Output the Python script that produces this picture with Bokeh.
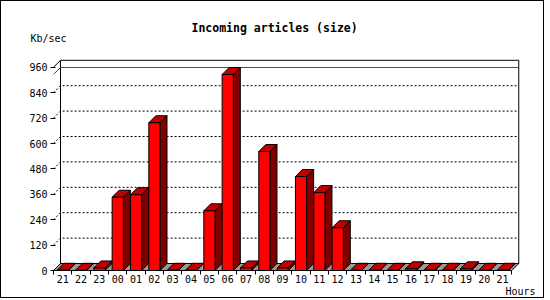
import numpy as np
from bokeh.plotting import figure
from bokeh.models import (Range1d, LinearAxis, FixedTicker, CustomJSTickFormatter, Title)
from bokeh.embed import file_html
from bokeh.resources import INLINE

# ---- data ----
hours = ["21", "22", "23", "00", "01", "02", "03", "04", "05", "06", "07", "08",
         "09", "10", "11", "12", "13", "14", "15", "16", "17", "18", "19", "20", "21"]
kbsec = [1, 1, 12, 346, 358, 698, 1, 1, 282, 926, 12, 562,
         12, 444, 368, 202, 1, 1, 1, 8, 1, 1, 8, 1, 1]
y_ticks = [0, 120, 240, 360, 480, 600, 720, 840, 960]
title_text = "Incoming articles (size)"
y_title = "Kb/sec"
x_title = "Hours"

# ---- geometry (pixels -> data units) ----
W, H = 544, 298          # canvas inside a 1px css border
L, R, T, B = 52, 20, 55, 27
PX_CAT = 18.33
PX_VAL = 203.2 / 960.0
DX = 7.0 / PX_CAT
DY = 7.0 / PX_VAL
fw = W - L - R
fh = H - T - B
FONT = "DejaVu Sans Mono"

p = figure(width=W, height=H, output_backend="svg", toolbar_location=None,
           x_range=Range1d(0, fw / PX_CAT),
           y_range=Range1d(-2.0 / PX_VAL, (fh - 2.0) / PX_VAL),
           min_border_left=L, min_border_right=R, min_border_top=T, min_border_bottom=B,
           x_axis_type=None, y_axis_type=None,
           styles={"border": "1px solid black"})
p.outline_line_color = None
p.background_fill_color = "white"
p.border_fill_color = "white"

n = len(hours)
v = np.array(kbsec, dtype=float)
vmax = float(v.max())
top_tick = y_ticks[-1]

# back wall
p.quad(left=[DX], right=[n + DX], bottom=[DY], top=[top_tick + DY],
       fill_color="white", line_color="black", line_width=1)
# dotted grid lines (front-left edge -> back wall)
gl = y_ticks[1:-1]
p.multi_line(xs=[[0, DX, n + DX] for _ in gl], ys=[[t, t + DY, t + DY] for t in gl],
             line_color="black", line_width=1, line_dash="2 2")
# top edge diagonal
p.line(x=[0, DX], y=[top_tick, top_tick + DY], line_color="black", line_width=1)
# max line
p.line(x=[0, DX, n + DX], y=[vmax, vmax + DY, vmax + DY], line_color="#ff0000", line_width=1)
# floor
p.patch(x=[0, n, n + DX, DX], y=[0, 0, DY, DY], fill_color="#999999",
        line_color="black", line_width=1)

x0 = np.arange(n) + 0.2
x1 = x0 + 0.61
side_xs = [[a, a + DX, a + DX, a] for a in x1]
side_ys = [[0, DY, h + DY, h] for h in v]
top_xs = [[a, b, b + DX, a + DX] for a, b in zip(x0, x1)]
top_ys = [[h, h, h + DY, h + DY] for h in v]
p.patches(xs=side_xs, ys=side_ys, fill_color="#800000", line_color="black", line_width=1)
p.patches(xs=top_xs, ys=top_ys, fill_color="#c00000", line_color="black", line_width=1)
p.quad(left=x0, right=x1, bottom=0, top=v, fill_color="#ff0000",
       line_color="black", line_width=1)

# axes
yaxis = LinearAxis(ticker=FixedTicker(ticks=y_ticks, minor_ticks=[]))
yaxis.axis_line_color = None
yaxis.major_tick_in = 2
yaxis.major_tick_out = 3
yaxis.major_label_standoff = 3
yaxis.major_label_text_font = FONT
yaxis.major_label_text_font_size = "10px"
yaxis.major_label_text_color = "black"
p.add_layout(yaxis, "left")

centers = [i + 0.5 for i in range(n)]
bounds = list(range(n + 1))
xaxis = LinearAxis(ticker=FixedTicker(ticks=centers, minor_ticks=bounds),
                   formatter=CustomJSTickFormatter(args=dict(labels=hours),
                                                   code="return labels[Math.round(tick - 0.5)];"))
xaxis.axis_line_color = None
xaxis.major_tick_in = 0
xaxis.major_tick_out = 0
xaxis.minor_tick_in = 2
xaxis.minor_tick_out = 2
xaxis.minor_tick_line_color = "black"
xaxis.major_label_standoff = 0
xaxis.major_label_text_font = FONT
xaxis.major_label_text_font_size = "10px"
xaxis.major_label_text_color = "black"
p.add_layout(xaxis, "below")

# texts as titles
p.title.text = title_text
p.title.align = "left"
p.title.offset = 138
p.title.standoff = -32
p.title.text_font = FONT
p.title.text_font_style = "bold"
p.title.text_font_size = "11.5px"
p.title.text_color = "black"

p.add_layout(Title(text=y_title, align="left", offset=-23, standoff=25,
                   text_font=FONT, text_font_style="normal", text_font_size="10px",
                   text_color="black"), "above")
p.add_layout(Title(text=x_title, align="left", offset=452, standoff=-3,
                   text_font=FONT, text_font_style="normal", text_font_size="10px",
                   text_color="black"), "below")

open("out.html", "w").write(file_html(p, INLINE))
